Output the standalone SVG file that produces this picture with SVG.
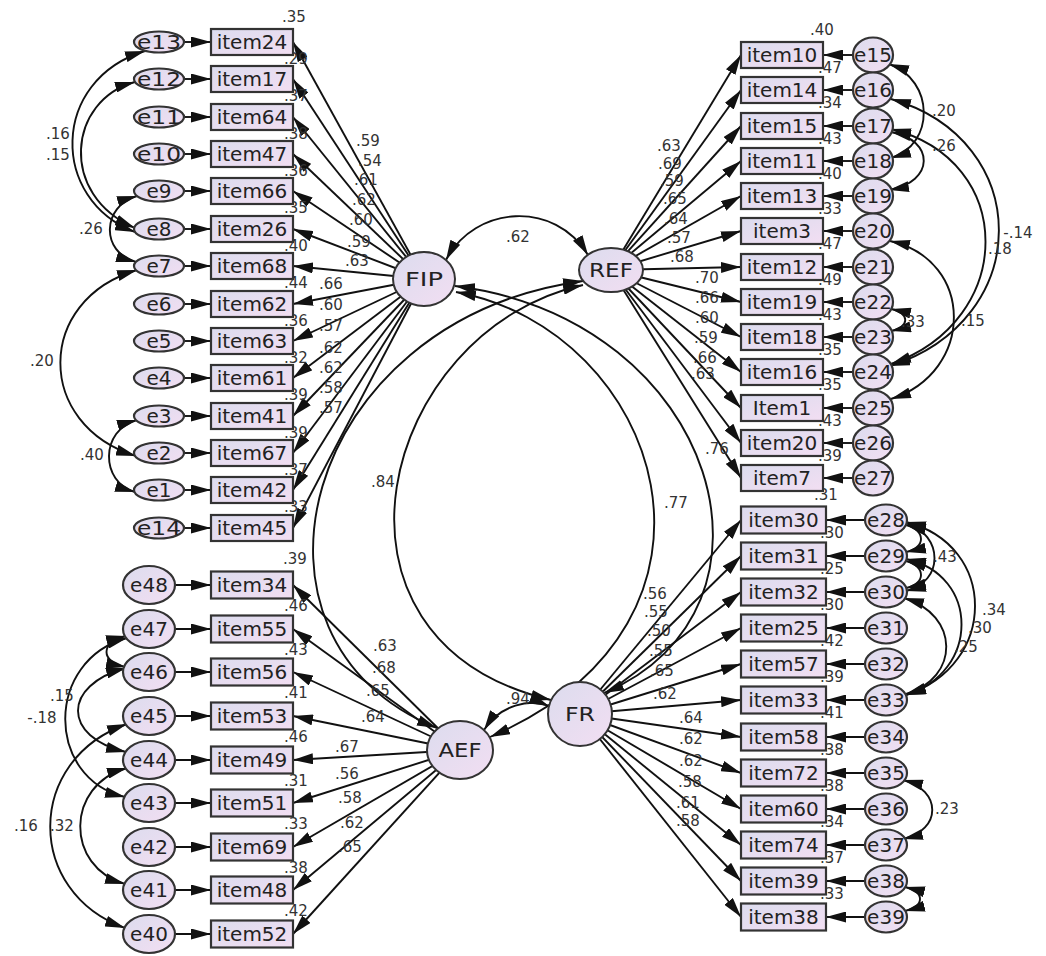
<svg xmlns="http://www.w3.org/2000/svg" width="1046" height="956" viewBox="0 0 1046 956">
<defs>
<linearGradient id="g" x1="0" y1="0" x2="1" y2="1">
<stop offset="0" stop-color="#dcdcee"/>
<stop offset="1" stop-color="#f2def2"/>
</linearGradient>
<marker id="a" viewBox="0 0 20 11" refX="20" refY="5.5" markerWidth="20" markerHeight="11" markerUnits="userSpaceOnUse" orient="auto-start-reverse">
<path d="M0,0 L20,5.5 L0,11 z" fill="#111"/>
</marker>
<style>
.ln{stroke:#111;stroke-width:1.9;fill:none}
.ar{marker-end:url(#a)}
.cv{marker-start:url(#a);marker-end:url(#a)}
.obs{fill:url(#g);stroke:#333;stroke-width:2.2}
.lat{fill:url(#g);stroke:#333;stroke-width:2}
.t{font-family:'DejaVu Sans','Liberation Sans',sans-serif;font-size:20px;fill:#222;text-anchor:middle}
.n{font-family:'DejaVu Sans','Liberation Sans',sans-serif;font-size:15px;fill:#333;text-anchor:middle}
</style>
</defs>
<rect width="1046" height="956" fill="#fff"/>
<g id="connectors" class="ln">
<line class="ar" x1="184" y1="42" x2="211" y2="42"/>
<line class="ar" x1="184" y1="79" x2="211" y2="79"/>
<line class="ar" x1="184" y1="117" x2="211" y2="117"/>
<line class="ar" x1="184" y1="154" x2="211" y2="154"/>
<line class="ar" x1="184" y1="191" x2="211" y2="191"/>
<line class="ar" x1="184" y1="229" x2="211" y2="229"/>
<line class="ar" x1="184" y1="266" x2="211" y2="266"/>
<line class="ar" x1="184" y1="304" x2="211" y2="304"/>
<line class="ar" x1="184" y1="341" x2="211" y2="341"/>
<line class="ar" x1="184" y1="378" x2="211" y2="378"/>
<line class="ar" x1="184" y1="416" x2="211" y2="416"/>
<line class="ar" x1="184" y1="453" x2="211" y2="453"/>
<line class="ar" x1="184" y1="490" x2="211" y2="490"/>
<line class="ar" x1="184" y1="528" x2="211" y2="528"/>
<line class="ar" x1="175" y1="585" x2="211" y2="585"/>
<line class="ar" x1="175" y1="629" x2="211" y2="629"/>
<line class="ar" x1="175" y1="672" x2="211" y2="672"/>
<line class="ar" x1="175" y1="716" x2="211" y2="716"/>
<line class="ar" x1="175" y1="760" x2="211" y2="760"/>
<line class="ar" x1="175" y1="803" x2="211" y2="803"/>
<line class="ar" x1="175" y1="847" x2="211" y2="847"/>
<line class="ar" x1="175" y1="890" x2="211" y2="890"/>
<line class="ar" x1="175" y1="934" x2="211" y2="934"/>
<line class="ar" x1="853" y1="55" x2="823" y2="55"/>
<line class="ar" x1="853" y1="90" x2="823" y2="90"/>
<line class="ar" x1="853" y1="126" x2="823" y2="126"/>
<line class="ar" x1="853" y1="161" x2="823" y2="161"/>
<line class="ar" x1="853" y1="196" x2="823" y2="196"/>
<line class="ar" x1="853" y1="231" x2="823" y2="231"/>
<line class="ar" x1="853" y1="267" x2="823" y2="267"/>
<line class="ar" x1="853" y1="302" x2="823" y2="302"/>
<line class="ar" x1="853" y1="337" x2="823" y2="337"/>
<line class="ar" x1="853" y1="372" x2="823" y2="372"/>
<line class="ar" x1="853" y1="408" x2="823" y2="408"/>
<line class="ar" x1="853" y1="443" x2="823" y2="443"/>
<line class="ar" x1="853" y1="478" x2="823" y2="478"/>
<line class="ar" x1="865" y1="520" x2="826" y2="520"/>
<line class="ar" x1="865" y1="556" x2="826" y2="556"/>
<line class="ar" x1="865" y1="592" x2="826" y2="592"/>
<line class="ar" x1="865" y1="628" x2="826" y2="628"/>
<line class="ar" x1="865" y1="664" x2="826" y2="664"/>
<line class="ar" x1="865" y1="700" x2="826" y2="700"/>
<line class="ar" x1="865" y1="737" x2="826" y2="737"/>
<line class="ar" x1="865" y1="773" x2="826" y2="773"/>
<line class="ar" x1="865" y1="809" x2="826" y2="809"/>
<line class="ar" x1="865" y1="845" x2="826" y2="845"/>
<line class="ar" x1="865" y1="881" x2="826" y2="881"/>
<line class="ar" x1="865" y1="917" x2="826" y2="917"/>
<line class="ar" x1="424" y1="279" x2="293" y2="42"/>
<line class="ar" x1="424" y1="279" x2="293" y2="79"/>
<line class="ar" x1="424" y1="279" x2="293" y2="117"/>
<line class="ar" x1="424" y1="279" x2="293" y2="154"/>
<line class="ar" x1="424" y1="279" x2="293" y2="191"/>
<line class="ar" x1="424" y1="279" x2="293" y2="229"/>
<line class="ar" x1="424" y1="279" x2="293" y2="266"/>
<line class="ar" x1="424" y1="279" x2="293" y2="304"/>
<line class="ar" x1="424" y1="279" x2="293" y2="341"/>
<line class="ar" x1="424" y1="279" x2="293" y2="378"/>
<line class="ar" x1="424" y1="279" x2="293" y2="416"/>
<line class="ar" x1="424" y1="279" x2="293" y2="453"/>
<line class="ar" x1="424" y1="279" x2="293" y2="490"/>
<line class="ar" x1="424" y1="279" x2="293" y2="528"/>
<line class="ar" x1="460" y1="750" x2="293" y2="585"/>
<line class="ar" x1="460" y1="750" x2="293" y2="629"/>
<line class="ar" x1="460" y1="750" x2="293" y2="672"/>
<line class="ar" x1="460" y1="750" x2="293" y2="716"/>
<line class="ar" x1="460" y1="750" x2="293" y2="760"/>
<line class="ar" x1="460" y1="750" x2="293" y2="803"/>
<line class="ar" x1="460" y1="750" x2="293" y2="847"/>
<line class="ar" x1="460" y1="750" x2="293" y2="890"/>
<line class="ar" x1="460" y1="750" x2="293" y2="934"/>
<line class="ar" x1="611" y1="270" x2="741" y2="55"/>
<line class="ar" x1="611" y1="270" x2="741" y2="90"/>
<line class="ar" x1="611" y1="270" x2="741" y2="126"/>
<line class="ar" x1="611" y1="270" x2="741" y2="161"/>
<line class="ar" x1="611" y1="270" x2="741" y2="196"/>
<line class="ar" x1="611" y1="270" x2="741" y2="231"/>
<line class="ar" x1="611" y1="270" x2="741" y2="267"/>
<line class="ar" x1="611" y1="270" x2="741" y2="302"/>
<line class="ar" x1="611" y1="270" x2="741" y2="337"/>
<line class="ar" x1="611" y1="270" x2="741" y2="372"/>
<line class="ar" x1="611" y1="270" x2="741" y2="408"/>
<line class="ar" x1="611" y1="270" x2="741" y2="443"/>
<line class="ar" x1="611" y1="270" x2="741" y2="478"/>
<line class="ar" x1="580" y1="714" x2="741" y2="520"/>
<line class="ar" x1="580" y1="714" x2="741" y2="556"/>
<line class="ar" x1="580" y1="714" x2="741" y2="592"/>
<line class="ar" x1="580" y1="714" x2="741" y2="628"/>
<line class="ar" x1="580" y1="714" x2="741" y2="664"/>
<line class="ar" x1="580" y1="714" x2="741" y2="700"/>
<line class="ar" x1="580" y1="714" x2="741" y2="737"/>
<line class="ar" x1="580" y1="714" x2="741" y2="773"/>
<line class="ar" x1="580" y1="714" x2="741" y2="809"/>
<line class="ar" x1="580" y1="714" x2="741" y2="845"/>
<line class="ar" x1="580" y1="714" x2="741" y2="881"/>
<line class="ar" x1="580" y1="714" x2="741" y2="917"/>
<path class="cv" d="M446,260 C475,205 555,200 588,255"/>
<path class="cv" d="M583,281 C300,320 220,640 437,728"/>
<path class="cv" d="M583,285 C380,330 300,640 551,700"/>
<path class="cv" d="M455,286 C720,320 800,610 604,693"/>
<path class="cv" d="M456,292 C660,330 760,620 490,737"/>
<path class="cv" d="M484,730 C500,705 530,698 549,706"/>
<path class="cv" d="M145,51 C50,80 50,200 135,232"/>
<path class="cv" d="M135,82 C68,100 58,195 135,228"/>
<path class="cv" d="M137,196 C102,206 100,252 136,262"/>
<path class="cv" d="M137,270 C35,300 35,425 136,456"/>
<path class="cv" d="M137,420 C100,430 100,482 135,492"/>
<path class="cv" d="M126,636 C100,642 100,662 126,667"/>
<path class="cv" d="M126,668 C62,685 62,737 126,752"/>
<path class="cv" d="M127,638 C45,660 45,778 125,797"/>
<path class="cv" d="M127,724 C25,760 25,892 125,928"/>
<path class="cv" d="M127,768 C65,785 65,867 125,884"/>
<path class="cv" d="M889,64 C935,80 935,145 891,158"/>
<path class="cv" d="M891,132 C935,140 935,182 889,190"/>
<path class="cv" d="M891,99 C1035,140 1035,320 890,366"/>
<path class="cv" d="M891,129 C1017,160 1017,320 891,364"/>
<path class="cv" d="M890,241 C975,260 975,372 891,399"/>
<path class="cv" d="M891,309 C910,313 910,327 891,331"/>
<path class="cv" d="M906,525 C926,530 926,548 906,552"/>
<path class="cv" d="M906,561 C926,566 926,584 906,588"/>
<path class="cv" d="M906,523 C944,535 944,582 906,591"/>
<path class="cv" d="M906,522 C998,545 998,665 906,695"/>
<path class="cv" d="M906,559 C980,575 980,672 906,695"/>
<path class="cv" d="M904,598 C960,615 960,678 906,694"/>
<path class="cv" d="M903,780 C942,790 942,830 903,839"/>
<path class="cv" d="M905,887 C925,892 925,906 905,911"/>
</g>
<g id="labels" class="n">
<text x="294" y="22">.35</text><text x="296" y="64">.29</text><text x="296" y="101">.37</text><text x="296" y="139">.38</text><text x="296" y="176">.36</text><text x="296" y="213">.35</text><text x="296" y="251">.40</text><text x="296" y="288">.44</text><text x="296" y="326">.36</text><text x="296" y="363">.32</text><text x="296" y="400">.39</text><text x="296" y="438">.39</text><text x="296" y="475">.37</text><text x="296" y="512">.33</text>
<text x="295" y="564">.39</text><text x="296" y="611">.46</text><text x="296" y="655">.43</text><text x="296" y="698">.41</text><text x="296" y="742">.46</text><text x="296" y="786">.31</text><text x="296" y="829">.33</text><text x="296" y="873">.38</text><text x="296" y="916">.42</text>
<text x="822" y="35">.40</text><text x="830" y="73">.47</text><text x="830" y="108">.34</text><text x="830" y="144">.43</text><text x="830" y="179">.40</text><text x="830" y="214">.33</text><text x="830" y="249">.47</text><text x="830" y="285">.49</text><text x="830" y="320">.43</text><text x="830" y="355">.35</text><text x="830" y="390">.35</text><text x="830" y="426">.43</text><text x="830" y="461">.39</text>
<text x="826" y="500">.31</text><text x="832" y="538">.30</text><text x="832" y="574">.25</text><text x="832" y="610">.30</text><text x="832" y="646">.42</text><text x="832" y="682">.39</text><text x="832" y="718">.41</text><text x="832" y="755">.38</text><text x="832" y="791">.38</text><text x="832" y="827">.34</text><text x="832" y="863">.37</text><text x="832" y="899">.33</text>
<text x="368" y="145.5">.59</text><text x="370" y="165.5">.54</text><text x="366" y="184.5">.61</text><text x="364" y="204.5">.62</text><text x="361" y="224.5">.60</text><text x="359" y="246.5">.59</text><text x="357" y="265.5">.63</text><text x="331" y="288.5">.66</text><text x="331" y="309.5">.60</text><text x="331" y="330.5">.57</text><text x="331" y="352.5">.62</text><text x="331" y="372.5">.62</text><text x="331" y="392.5">.58</text><text x="331" y="412.5">.57</text>
<text x="669" y="150.5">.63</text><text x="670" y="168.5">.69</text><text x="672" y="185.5">.59</text><text x="675" y="203.5">.65</text><text x="676" y="223.5">.64</text><text x="679" y="242.5">.57</text><text x="682" y="261.5">.68</text><text x="707" y="282.5">.70</text><text x="707" y="302.5">.66</text><text x="707" y="322.5">.60</text><text x="706" y="342.5">.59</text><text x="705" y="362.5">.66</text><text x="703" y="378.5">.63</text><text x="717" y="453.5">.76</text>
<text x="655" y="598.5">.56</text><text x="656" y="616.5">.55</text><text x="659" y="635.5">.50</text><text x="661" y="655.5">.55</text><text x="662" y="675.5">.65</text><text x="665" y="698.5">.62</text><text x="691" y="722.5">.64</text><text x="691" y="743.5">.62</text><text x="691" y="765.5">.62</text><text x="690" y="786.5">.58</text><text x="688" y="807.5">.61</text><text x="688" y="825.5">.58</text>
<text x="385" y="650.5">.63</text><text x="384" y="672.5">.68</text><text x="378" y="695.5">.65</text><text x="373" y="721.5">.64</text><text x="347" y="751.5">.67</text><text x="347" y="778.5">.56</text><text x="350" y="802.5">.58</text><text x="352" y="827.5">.62</text><text x="350" y="851.5">.65</text>
<text x="518" y="242">.62</text><text x="383" y="487">.84</text><text x="676" y="508">.77</text><text x="518" y="704">.94</text>
<text x="58" y="138.5">.16</text><text x="58" y="159.5">.15</text><text x="91" y="233.5">.26</text><text x="42" y="365.5">.20</text><text x="92" y="459.5">.40</text>
<text x="62" y="700.5">.15</text><text x="42" y="722.5">-.18</text><text x="26" y="830.5">.16</text><text x="62" y="830.5">.32</text>
<text x="944" y="115.5">.20</text><text x="944" y="150.5">.26</text><text x="1018" y="237.5">-.14</text><text x="1000" y="253.5">.18</text><text x="973" y="325.5">.15</text><text x="913" y="326.5">.33</text>
<text x="945" y="561.5">.43</text><text x="994" y="614.5">.34</text><text x="980" y="632.5">.30</text><text x="966" y="651.5">.25</text><text x="947" y="813.5">.23</text>
</g>
<g id="FIP"><ellipse class="lat" cx="424" cy="279" rx="31" ry="27"/><text class="t" x="424" y="286" font-size="19" textLength="38" lengthAdjust="spacingAndGlyphs">FIP</text></g>
<g id="REF"><ellipse class="lat" cx="611" cy="270" rx="32" ry="22"/><text class="t" x="611" y="277" font-size="19" textLength="44" lengthAdjust="spacingAndGlyphs">REF</text></g>
<g id="AEF"><ellipse class="lat" cx="460" cy="750" rx="33" ry="29"/><text class="t" x="460" y="757" font-size="19" textLength="43" lengthAdjust="spacingAndGlyphs">AEF</text></g>
<g id="FR"><circle class="lat" cx="580" cy="714" r="32"/><text class="t" x="580" y="721" font-size="19" textLength="30" lengthAdjust="spacingAndGlyphs">FR</text></g>
<g id="item24"><rect class="obs" x="211" y="29" width="82" height="26"/><text class="t" x="252" y="49">item24</text></g>
<g id="item17"><rect class="obs" x="211" y="66" width="82" height="26"/><text class="t" x="252" y="86">item17</text></g>
<g id="item64"><rect class="obs" x="211" y="104" width="82" height="26"/><text class="t" x="252" y="124">item64</text></g>
<g id="item47"><rect class="obs" x="211" y="141" width="82" height="26"/><text class="t" x="252" y="161">item47</text></g>
<g id="item66"><rect class="obs" x="211" y="178" width="82" height="26"/><text class="t" x="252" y="198">item66</text></g>
<g id="item26"><rect class="obs" x="211" y="216" width="82" height="26"/><text class="t" x="252" y="236">item26</text></g>
<g id="item68"><rect class="obs" x="211" y="253" width="82" height="26"/><text class="t" x="252" y="273">item68</text></g>
<g id="item62"><rect class="obs" x="211" y="291" width="82" height="26"/><text class="t" x="252" y="311">item62</text></g>
<g id="item63"><rect class="obs" x="211" y="328" width="82" height="26"/><text class="t" x="252" y="348">item63</text></g>
<g id="item61"><rect class="obs" x="211" y="365" width="82" height="26"/><text class="t" x="252" y="385">item61</text></g>
<g id="item41"><rect class="obs" x="211" y="403" width="82" height="26"/><text class="t" x="252" y="423">item41</text></g>
<g id="item67"><rect class="obs" x="211" y="440" width="82" height="26"/><text class="t" x="252" y="460">item67</text></g>
<g id="item42"><rect class="obs" x="211" y="477" width="82" height="26"/><text class="t" x="252" y="497">item42</text></g>
<g id="item45"><rect class="obs" x="211" y="515" width="82" height="26"/><text class="t" x="252" y="535">item45</text></g>
<g id="e13"><ellipse class="obs" cx="159" cy="42" rx="25" ry="10.5"/><text class="t" x="159" y="49" textLength="44" lengthAdjust="spacingAndGlyphs">e13</text></g>
<g id="e12"><ellipse class="obs" cx="159" cy="79" rx="25" ry="10.5"/><text class="t" x="159" y="86" textLength="44" lengthAdjust="spacingAndGlyphs">e12</text></g>
<g id="e11"><ellipse class="obs" cx="159" cy="117" rx="25" ry="10.5"/><text class="t" x="159" y="124" textLength="44" lengthAdjust="spacingAndGlyphs">e11</text></g>
<g id="e10"><ellipse class="obs" cx="159" cy="154" rx="25" ry="10.5"/><text class="t" x="159" y="161" textLength="44" lengthAdjust="spacingAndGlyphs">e10</text></g>
<g id="e9"><ellipse class="obs" cx="159" cy="191" rx="25" ry="10.5"/><text class="t" x="159" y="198">e9</text></g>
<g id="e8"><ellipse class="obs" cx="159" cy="229" rx="25" ry="10.5"/><text class="t" x="159" y="236">e8</text></g>
<g id="e7"><ellipse class="obs" cx="159" cy="266" rx="25" ry="10.5"/><text class="t" x="159" y="273">e7</text></g>
<g id="e6"><ellipse class="obs" cx="159" cy="304" rx="25" ry="10.5"/><text class="t" x="159" y="311">e6</text></g>
<g id="e5"><ellipse class="obs" cx="159" cy="341" rx="25" ry="10.5"/><text class="t" x="159" y="348">e5</text></g>
<g id="e4"><ellipse class="obs" cx="159" cy="378" rx="25" ry="10.5"/><text class="t" x="159" y="385">e4</text></g>
<g id="e3"><ellipse class="obs" cx="159" cy="416" rx="25" ry="10.5"/><text class="t" x="159" y="423">e3</text></g>
<g id="e2"><ellipse class="obs" cx="159" cy="453" rx="25" ry="10.5"/><text class="t" x="159" y="460">e2</text></g>
<g id="e1"><ellipse class="obs" cx="159" cy="490" rx="25" ry="10.5"/><text class="t" x="159" y="497">e1</text></g>
<g id="e14"><ellipse class="obs" cx="159" cy="528" rx="25" ry="10.5"/><text class="t" x="159" y="535" textLength="44" lengthAdjust="spacingAndGlyphs">e14</text></g>
<g id="item34"><rect class="obs" x="211" y="571.5" width="82" height="27"/><text class="t" x="252" y="592">item34</text></g>
<g id="item55"><rect class="obs" x="211" y="615.5" width="82" height="27"/><text class="t" x="252" y="636">item55</text></g>
<g id="item56"><rect class="obs" x="211" y="658.5" width="82" height="27"/><text class="t" x="252" y="679">item56</text></g>
<g id="item53"><rect class="obs" x="211" y="702.5" width="82" height="27"/><text class="t" x="252" y="723">item53</text></g>
<g id="item49"><rect class="obs" x="211" y="746.5" width="82" height="27"/><text class="t" x="252" y="767">item49</text></g>
<g id="item51"><rect class="obs" x="211" y="789.5" width="82" height="27"/><text class="t" x="252" y="810">item51</text></g>
<g id="item69"><rect class="obs" x="211" y="833.5" width="82" height="27"/><text class="t" x="252" y="854">item69</text></g>
<g id="item48"><rect class="obs" x="211" y="876.5" width="82" height="27"/><text class="t" x="252" y="897">item48</text></g>
<g id="item52"><rect class="obs" x="211" y="920.5" width="82" height="27"/><text class="t" x="252" y="941">item52</text></g>
<g id="e48"><ellipse class="obs" cx="149" cy="585" rx="26" ry="19"/><text class="t" x="149" y="592">e48</text></g>
<g id="e47"><ellipse class="obs" cx="149" cy="629" rx="26" ry="19"/><text class="t" x="149" y="636">e47</text></g>
<g id="e46"><ellipse class="obs" cx="149" cy="672" rx="26" ry="19"/><text class="t" x="149" y="679">e46</text></g>
<g id="e45"><ellipse class="obs" cx="149" cy="716" rx="26" ry="19"/><text class="t" x="149" y="723">e45</text></g>
<g id="e44"><ellipse class="obs" cx="149" cy="760" rx="26" ry="19"/><text class="t" x="149" y="767">e44</text></g>
<g id="e43"><ellipse class="obs" cx="149" cy="803" rx="26" ry="19"/><text class="t" x="149" y="810">e43</text></g>
<g id="e42"><ellipse class="obs" cx="149" cy="847" rx="26" ry="19"/><text class="t" x="149" y="854">e42</text></g>
<g id="e41"><ellipse class="obs" cx="149" cy="890" rx="26" ry="19"/><text class="t" x="149" y="897">e41</text></g>
<g id="e40"><ellipse class="obs" cx="149" cy="934" rx="26" ry="19"/><text class="t" x="149" y="941">e40</text></g>
<g id="item10"><rect class="obs" x="741" y="42" width="82" height="26"/><text class="t" x="782" y="62">item10</text></g>
<g id="item14"><rect class="obs" x="741" y="77" width="82" height="26"/><text class="t" x="782" y="97">item14</text></g>
<g id="item15"><rect class="obs" x="741" y="113" width="82" height="26"/><text class="t" x="782" y="133">item15</text></g>
<g id="item11"><rect class="obs" x="741" y="148" width="82" height="26"/><text class="t" x="782" y="168">item11</text></g>
<g id="item13"><rect class="obs" x="741" y="183" width="82" height="26"/><text class="t" x="782" y="203">item13</text></g>
<g id="item3"><rect class="obs" x="741" y="218" width="82" height="26"/><text class="t" x="782" y="238">item3</text></g>
<g id="item12"><rect class="obs" x="741" y="254" width="82" height="26"/><text class="t" x="782" y="274">item12</text></g>
<g id="item19"><rect class="obs" x="741" y="289" width="82" height="26"/><text class="t" x="782" y="309">item19</text></g>
<g id="item18"><rect class="obs" x="741" y="324" width="82" height="26"/><text class="t" x="782" y="344">item18</text></g>
<g id="item16"><rect class="obs" x="741" y="359" width="82" height="26"/><text class="t" x="782" y="379">item16</text></g>
<g id="Item1"><rect class="obs" x="741" y="395" width="82" height="26"/><text class="t" x="782" y="415">Item1</text></g>
<g id="item20"><rect class="obs" x="741" y="430" width="82" height="26"/><text class="t" x="782" y="450">item20</text></g>
<g id="item7"><rect class="obs" x="741" y="465" width="82" height="26"/><text class="t" x="782" y="485">item7</text></g>
<g id="e15"><ellipse class="obs" cx="873" cy="55" rx="20" ry="17.5"/><text class="t" x="873" y="62">e15</text></g>
<g id="e16"><ellipse class="obs" cx="873" cy="90" rx="20" ry="17.5"/><text class="t" x="873" y="97">e16</text></g>
<g id="e17"><ellipse class="obs" cx="873" cy="126" rx="20" ry="17.5"/><text class="t" x="873" y="133">e17</text></g>
<g id="e18"><ellipse class="obs" cx="873" cy="161" rx="20" ry="17.5"/><text class="t" x="873" y="168">e18</text></g>
<g id="e19"><ellipse class="obs" cx="873" cy="196" rx="20" ry="17.5"/><text class="t" x="873" y="203">e19</text></g>
<g id="e20"><ellipse class="obs" cx="873" cy="231" rx="20" ry="17.5"/><text class="t" x="873" y="238">e20</text></g>
<g id="e21"><ellipse class="obs" cx="873" cy="267" rx="20" ry="17.5"/><text class="t" x="873" y="274">e21</text></g>
<g id="e22"><ellipse class="obs" cx="873" cy="302" rx="20" ry="17.5"/><text class="t" x="873" y="309">e22</text></g>
<g id="e23"><ellipse class="obs" cx="873" cy="337" rx="20" ry="17.5"/><text class="t" x="873" y="344">e23</text></g>
<g id="e24"><ellipse class="obs" cx="873" cy="372" rx="20" ry="17.5"/><text class="t" x="873" y="379">e24</text></g>
<g id="e25"><ellipse class="obs" cx="873" cy="408" rx="20" ry="17.5"/><text class="t" x="873" y="415">e25</text></g>
<g id="e26"><ellipse class="obs" cx="873" cy="443" rx="20" ry="17.5"/><text class="t" x="873" y="450">e26</text></g>
<g id="e27"><ellipse class="obs" cx="873" cy="478" rx="20" ry="17.5"/><text class="t" x="873" y="485">e27</text></g>
<g id="item30"><rect class="obs" x="741" y="506.5" width="85" height="27"/><text class="t" x="783.5" y="527">item30</text></g>
<g id="item31"><rect class="obs" x="741" y="542.5" width="85" height="27"/><text class="t" x="783.5" y="563">item31</text></g>
<g id="item32"><rect class="obs" x="741" y="578.5" width="85" height="27"/><text class="t" x="783.5" y="599">item32</text></g>
<g id="item25"><rect class="obs" x="741" y="614.5" width="85" height="27"/><text class="t" x="783.5" y="635">item25</text></g>
<g id="item57"><rect class="obs" x="741" y="650.5" width="85" height="27"/><text class="t" x="783.5" y="671">item57</text></g>
<g id="item33"><rect class="obs" x="741" y="686.5" width="85" height="27"/><text class="t" x="783.5" y="707">item33</text></g>
<g id="item58"><rect class="obs" x="741" y="723.5" width="85" height="27"/><text class="t" x="783.5" y="744">item58</text></g>
<g id="item72"><rect class="obs" x="741" y="759.5" width="85" height="27"/><text class="t" x="783.5" y="780">item72</text></g>
<g id="item60"><rect class="obs" x="741" y="795.5" width="85" height="27"/><text class="t" x="783.5" y="816">item60</text></g>
<g id="item74"><rect class="obs" x="741" y="831.5" width="85" height="27"/><text class="t" x="783.5" y="852">item74</text></g>
<g id="item39"><rect class="obs" x="741" y="867.5" width="85" height="27"/><text class="t" x="783.5" y="888">item39</text></g>
<g id="item38"><rect class="obs" x="741" y="903.5" width="85" height="27"/><text class="t" x="783.5" y="924">item38</text></g>
<g id="e28"><ellipse class="obs" cx="886" cy="520" rx="21" ry="15.5"/><text class="t" x="886" y="527">e28</text></g>
<g id="e29"><ellipse class="obs" cx="886" cy="556" rx="21" ry="15.5"/><text class="t" x="886" y="563">e29</text></g>
<g id="e30"><ellipse class="obs" cx="886" cy="592" rx="21" ry="15.5"/><text class="t" x="886" y="599">e30</text></g>
<g id="e31"><ellipse class="obs" cx="886" cy="628" rx="21" ry="15.5"/><text class="t" x="886" y="635">e31</text></g>
<g id="e32"><ellipse class="obs" cx="886" cy="664" rx="21" ry="15.5"/><text class="t" x="886" y="671">e32</text></g>
<g id="e33"><ellipse class="obs" cx="886" cy="700" rx="21" ry="15.5"/><text class="t" x="886" y="707">e33</text></g>
<g id="e34"><ellipse class="obs" cx="886" cy="737" rx="21" ry="15.5"/><text class="t" x="886" y="744">e34</text></g>
<g id="e35"><ellipse class="obs" cx="886" cy="773" rx="21" ry="15.5"/><text class="t" x="886" y="780">e35</text></g>
<g id="e36"><ellipse class="obs" cx="886" cy="809" rx="21" ry="15.5"/><text class="t" x="886" y="816">e36</text></g>
<g id="e37"><ellipse class="obs" cx="886" cy="845" rx="21" ry="15.5"/><text class="t" x="886" y="852">e37</text></g>
<g id="e38"><ellipse class="obs" cx="886" cy="881" rx="21" ry="15.5"/><text class="t" x="886" y="888">e38</text></g>
<g id="e39"><ellipse class="obs" cx="886" cy="917" rx="21" ry="15.5"/><text class="t" x="886" y="924">e39</text></g>
</svg>
